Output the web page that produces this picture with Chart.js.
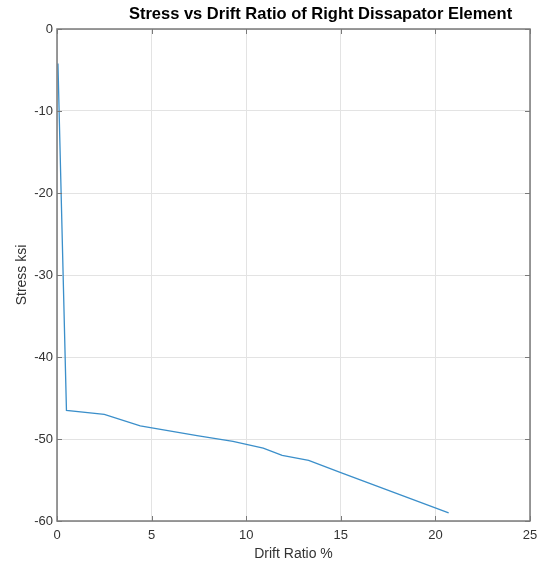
<!DOCTYPE html>
<html>
<head>
<meta charset="utf-8">
<script src="https://cdn.jsdelivr.net/npm/chart.js@4"></script>
<style>
  html, body { margin: 0; padding: 0; background: #fff; }
  #wrap { width: 545px; height: 567px; }
</style>
</head>
<body>
<div id="wrap"><canvas id="stress"></canvas></div>
<script>
// drift ratio (%) and stress (ksi)
var driftValues = [0.05, 0.5, 2.5, 4.4, 7.4, 9.3, 10.9, 11.9, 13.3, 15.0, 20.7];
var stressValues = [-4.2, -46.5, -47.0, -48.4, -49.6, -50.3, -51.1, -52.0, -52.6, -54.1, -59.0];
var xTicks = [0, 5, 10, 15, 20, 25];
var yTicks = [0, -10, -20, -30, -40, -50, -60];
var titleText = 'Stress vs Drift Ratio of Right Dissapator Element';

var points = [];
for (var i = 0; i < driftValues.length; i++) {
  points.push({x: driftValues[i], y: stressValues[i]});
}

var font = 'Liberation Sans, Arial, sans-serif';

// box round the plot plus little inward ticks, matlab style
var frame = {
  id: 'frame',
  afterDatasetsDraw: function(chart) {
    var ctx = chart.ctx;
    var a = chart.chartArea;
    var xs = chart.scales.x, ys = chart.scales.y;
    ctx.save();
    ctx.strokeStyle = '#7a7a7a';
    ctx.lineWidth = 1;
    ctx.beginPath();
    xTicks.forEach(function(t) {
      var px = Math.round(xs.getPixelForValue(t)) + 0.5;
      ctx.moveTo(px, a.bottom); ctx.lineTo(px, a.bottom - 5);
      ctx.moveTo(px, a.top); ctx.lineTo(px, a.top + 5);
    });
    yTicks.forEach(function(t) {
      var py = Math.round(ys.getPixelForValue(t)) + 0.5;
      ctx.moveTo(a.left, py); ctx.lineTo(a.left + 5, py);
      ctx.moveTo(a.right, py); ctx.lineTo(a.right - 5, py);
    });
    ctx.stroke();
    ctx.lineWidth = 1.5;
    ctx.strokeRect(a.left, a.top, a.right - a.left, a.bottom - a.top);

    // title sits a bit right of centre in the original
    ctx.fillStyle = '#000';
    ctx.font = 'bold 16.5px ' + font;
    ctx.textAlign = 'center';
    ctx.textBaseline = 'middle';
    ctx.fillText(titleText, (a.left + a.right) / 2 + 27, a.top - 15);
    ctx.restore();
  }
};

new Chart(document.getElementById('stress'), {
  type: 'scatter',
  data: {
    datasets: [{
      data: points,
      showLine: true,
      borderColor: '#3b8fca',
      borderWidth: 1.3,
      pointRadius: 0,
      tension: 0
    }]
  },
  plugins: [frame],
  options: {
    responsive: true,
    maintainAspectRatio: false,
    animation: false,
    layout: { padding: { left: 0, right: 15, top: 29, bottom: 0 } },
    plugins: {
      legend: { display: false },
      tooltip: { enabled: false },
      title: { display: false }
    },
    scales: {
      x: {
        type: 'linear',
        min: 0,
        max: 25,
        afterBuildTicks: function(scale) { scale.ticks = xTicks.map(function(v) { return {value: v}; }); },
        afterFit: function(scale) { scale.height = 46; },
        grid: { color: '#e3e3e3', drawTicks: false },
        border: { display: false },
        ticks: { color: '#333', font: { family: font, size: 13 }, padding: 7 },
        title: {
          display: true,
          text: 'Drift Ratio %',
          color: '#333',
          font: { family: font, size: 14 },
          padding: { top: 0, bottom: 4 }
        }
      },
      y: {
        type: 'linear',
        min: -60,
        max: 0,
        afterBuildTicks: function(scale) { scale.ticks = yTicks.map(function(v) { return {value: v}; }); },
        afterFit: function(scale) { scale.width = 57; },
        grid: { color: '#e3e3e3', drawTicks: false },
        border: { display: false },
        ticks: { color: '#333', font: { family: font, size: 13 }, padding: 4 },
        title: {
          display: true,
          text: 'Stress ksi',
          color: '#333',
          font: { family: font, size: 14 },
          padding: { top: 14, bottom: 0 }
        }
      }
    }
  }
});
</script>
</body>
</html>
